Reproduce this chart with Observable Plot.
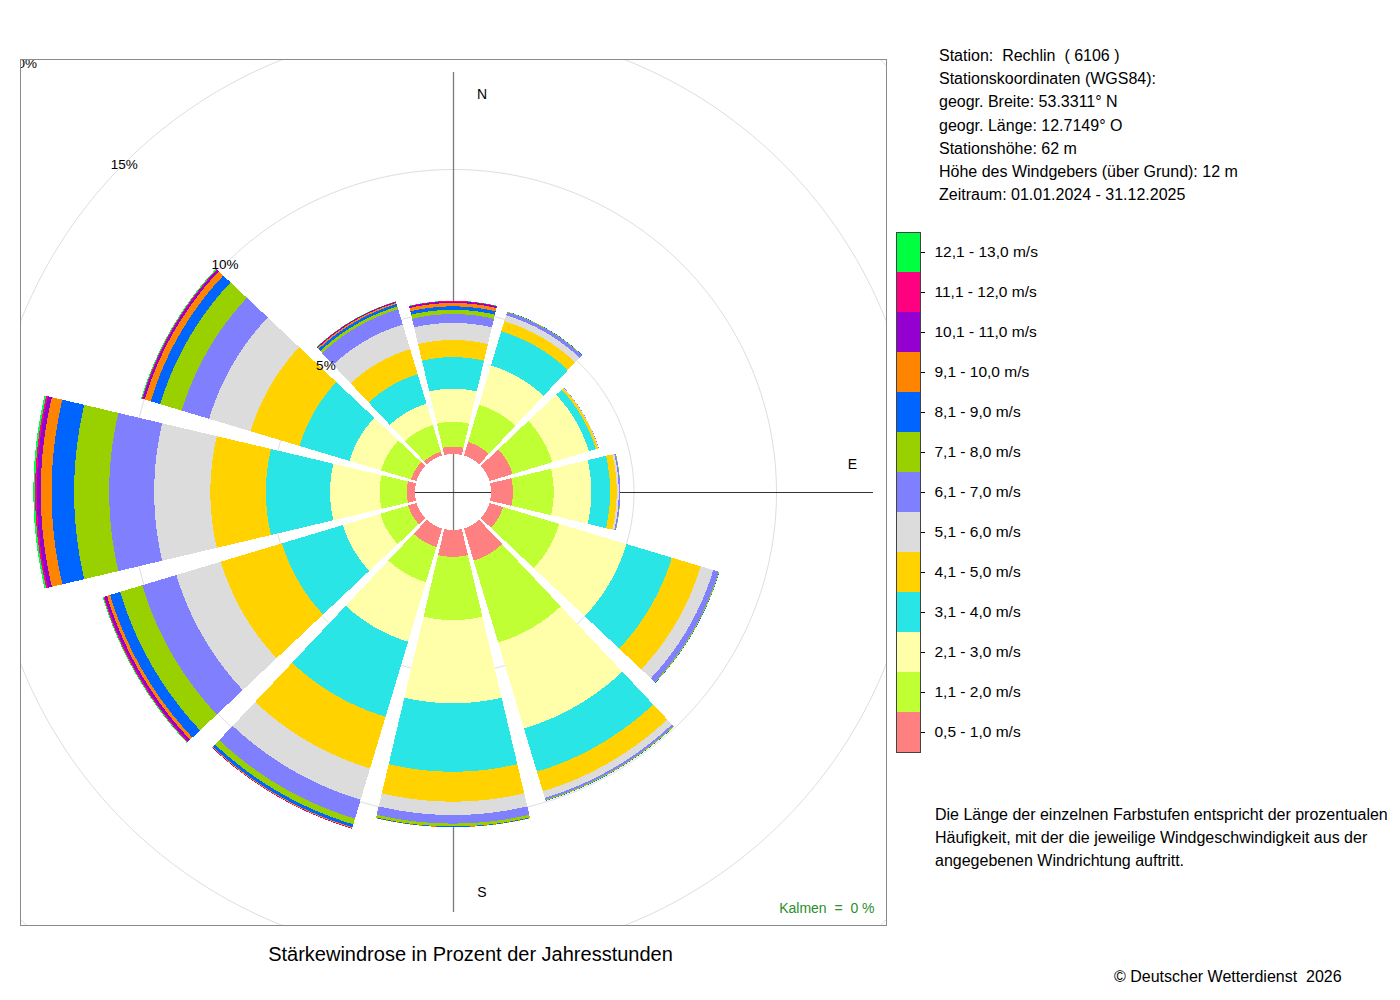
<!DOCTYPE html>
<html>
<head>
<meta charset="utf-8">
<script src="https://cdn.jsdelivr.net/npm/d3@7"></script>
<script src="https://cdn.jsdelivr.net/npm/@observablehq/plot@0.6"></script>
<style>
  body { margin: 0; background: #fff; font-family: "Liberation Sans", Arial, Helvetica, sans-serif; }
  #wrap { position: relative; width: 1400px; height: 1000px; overflow: hidden; background: #fff; }
  #rose, #legend { position: absolute; }
  #rose { left: 0; top: 0; }
  #legend { left: 895px; top: 222px; }
  .txt { position: absolute; font-size: 16px; color: #000; white-space: pre; line-height: 23.2px; }
</style>
</head>
<body>
<div id="wrap">
  <div id="rose"></div>
  <div id="legend"></div>
  <div class="txt" id="station" style="left:939px; top:44px;"></div>
  <div class="txt" id="note" style="left:935px; top:803px;"></div>
  <div class="txt" id="caption" style="left:0; width:941px; top:941px; text-align:center; font-size:20px; line-height:26px;"></div>
  <div class="txt" id="copy" style="left:1114px; top:965px;"></div>
</div>
<script>
// ---- categories ----
const directions = ["N", "NNE", "ENE", "E", "ESE", "SSE", "S", "SSW", "WSW", "W", "WNW", "NNW"];
const bearings   = [0, 30, 60, 90, 120, 150, 180, 210, 240, 270, 300, 330];
const speedClasses = [
  "0,5 - 1,0 m/s", "1,1 - 2,0 m/s", "2,1 - 3,0 m/s", "3,1 - 4,0 m/s", "4,1 - 5,0 m/s",
  "5,1 - 6,0 m/s", "6,1 - 7,0 m/s", "7,1 - 8,0 m/s", "8,1 - 9,0 m/s", "9,1 - 10,0 m/s",
  "10,1 - 11,0 m/s", "11,1 - 12,0 m/s", "12,1 - 13,0 m/s"
];
const classColors = [
  "#ff8080", "#bfff33", "#ffffaa", "#2ae5e5", "#ffd200", "#dcdcdc", "#8080ff",
  "#99d100", "#0064ff", "#ff8400", "#9400d0", "#ff0080", "#00ff40"
];

// ---- percent of hours per direction, one value per speed class (lowest first) ----
const pctN   = [0.26, 0.87, 1.16, 1.11, 0.60, 0.60, 0.31, 0.15, 0.12, 0.12, 0.05, 0.02, 0.01];
const pctNNE = [0.50, 1.36, 1.44, 1.25, 0.37, 0.22, 0.11, 0.02, 0.01, 0, 0, 0, 0];
const pctENE = [0.85, 1.45, 1.34, 0.26, 0.08, 0.02, 0.01, 0, 0, 0, 0, 0, 0];
const pctE   = [0.77, 1.43, 1.32, 0.66, 0.23, 0.07, 0.05, 0.01, 0, 0, 0, 0, 0];
const pctESE = [0.50, 2.06, 2.46, 1.66, 1.06, 0.46, 0.19, 0.03, 0.01, 0, 0, 0, 0];
const pctSSE = [1.18, 3.00, 3.15, 1.58, 0.72, 0.24, 0.07, 0.03, 0.01, 0, 0, 0, 0];
const pctS   = [0.94, 2.22, 2.92, 2.40, 1.05, 0.47, 0.30, 0.10, 0.02, 0.01, 0, 0, 0];
const pctSSW = [0.68, 1.29, 2.18, 2.75, 1.89, 1.15, 0.69, 0.21, 0.11, 0.03, 0.01, 0.01, 0];
const pctWSW = [0.31, 1.02, 1.37, 2.23, 2.24, 1.63, 1.25, 0.81, 0.37, 0.11, 0.09, 0.04, 0.03];
const pctW   = [0.29, 0.95, 1.74, 2.25, 1.95, 1.97, 1.58, 1.23, 0.79, 0.38, 0.14, 0.06, 0.06];
const pctWNW = [0.20, 1.10, 1.16, 1.83, 1.79, 1.52, 1.00, 0.79, 0.35, 0.22, 0.07, 0.03, 0.03];
const pctNNW = [0.14, 0.98, 0.78, 1.08, 0.92, 0.90, 0.56, 0.10, 0.09, 0.05, 0.03, 0.01, 0.01];

// ---- ring / compass labels ----
const ringPercents = [5, 10, 15, 20];
const compassLabels = ["N", "E", "S"];
const compassBearings = [0, 90, 180];
const calmText = "Kalmen\u00a0 =\u00a0 0 %";

// ---- texts ----
const stationLines = [
  "Station:  Rechlin  ( 6106 )",
  "Stationskoordinaten (WGS84):",
  "geogr. Breite: 53.3311° N",
  "geogr. Länge: 12.7149° O",
  "Stationshöhe: 62 m",
  "Höhe des Windgebers (über Grund): 12 m",
  "Zeitraum: 01.01.2024 - 31.12.2025"
];
const noteLines = [
  "Die Länge der einzelnen Farbstufen entspricht der prozentualen",
  "Häufigkeit, mit der die jeweilige Windgeschwindigkeit aus der",
  "angegebenen Windrichtung auftritt."
];
const captionText = "Stärkewindrose in Prozent der Jahresstunden";
const copyText = "© Deutscher Wetterdienst  2026";

// ---- build tables ----
const table = { N: pctN, NNE: pctNNE, ENE: pctENE, E: pctE, ESE: pctESE, SSE: pctSSE,
                S: pctS, SSW: pctSSW, WSW: pctWSW, W: pctW, WNW: pctWNW, NNW: pctNNW };

const HOLE = 38 / 28.5;          // empty centre, in percent units
const EXT = 433 / 28.5;          // half size of the square frame, in percent units
const AXIS = 420 / 28.5;         // length of the compass axes
const HALF = 13.3 * Math.PI / 180; // half angular width of a sector
const rad = d => d * Math.PI / 180;

const bandPts = [];
directions.forEach((dir, i) => {
  const th = rad(bearings[i]);
  let cum = 0;
  table[dir].forEach((v, k) => {
    if (!(v > 0)) return;
    const r0 = HOLE + cum, r1 = HOLE + cum + v;
    cum += v;
    const steps = 30;
    for (let s = 0; s <= steps; s++) {
      const a = th - HALF + (2 * HALF * s) / steps;
      bandPts.push({
        id: dir + "-" + k, cls: speedClasses[k],
        x1: r0 * Math.sin(a), y1: r0 * Math.cos(a),
        x2: r1 * Math.sin(a), y2: r1 * Math.cos(a)
      });
    }
  });
});

const ringPts = ringPercents.flatMap(p =>
  d3.range(0, 361, 1).map(a => ({ p, x: (HOLE + p) * Math.sin(rad(a)), y: (HOLE + p) * Math.cos(rad(a)) }))
);

const compass = compassLabels.map((label, i) => {
  const a = rad(compassBearings[i]);
  return {
    label,
    x: 14 * Math.sin(a) + 1.0 * Math.abs(Math.cos(a)),
    y: 14 * Math.cos(a) + 1.0 * Math.abs(Math.sin(a))
  };
});

const FONT = "Liberation Sans, Arial, Helvetica, sans-serif";

const rose = Plot.plot({
  width: 1400, height: 1000,
  marginLeft: 20, marginTop: 59, marginRight: 514, marginBottom: 75,
  x: { domain: [-EXT, EXT], axis: null },
  y: { domain: [-EXT, EXT], axis: null },
  color: { domain: speedClasses, range: classColors },
  style: { fontFamily: FONT, fontSize: "13px", background: "transparent", color: "#000" },
  marks: [
    Plot.line(ringPts, { x: "x", y: "y", z: "p", stroke: "#dedede", strokeWidth: 1, clip: true }),
    Plot.ruleX([0], { y1: -AXIS, y2: AXIS, stroke: "#7a7a7a", strokeWidth: 1.3 }),
    Plot.ruleY([0], { x1: -AXIS, x2: AXIS, stroke: "#333", strokeWidth: 1 }),
    Plot.text(compass, { x: "x", y: "y", text: "label", fontSize: 14, dy: 1, fill: "#000" }),
    Plot.area(bandPts, { x1: "x1", y1: "y1", x2: "x2", y2: "y2", z: "id", fill: "cls", shapeRendering: "crispEdges" }),
    Plot.text(ringPercents, {
      x: p => -(HOLE + p) * Math.SQRT1_2, y: p => (HOLE + p) * Math.SQRT1_2,
      text: p => p + "%", fontSize: 13.5, dy: 1, fill: "#000", clip: true
    }),
    Plot.text([calmText], { text: d => d, frameAnchor: "bottom-right", dx: -12, dy: -17,
      textAnchor: "end", lineAnchor: "middle", fontSize: 14, fill: "#2a8f2a" }),
    Plot.frame({ stroke: "#8a8a8a" })
  ]
});
document.getElementById("rose").appendChild(rose);

const legend = Plot.plot({
  width: 175, height: 540,
  marginLeft: 1, marginRight: 150, marginTop: 10, marginBottom: 10,
  x: { domain: [0, 1], axis: null },
  y: { type: "band", domain: speedClasses.slice().reverse(), padding: 0, axis: "right",
       tickSize: 4, tickPadding: 10, label: null },
  color: { domain: speedClasses, range: classColors },
  style: { fontFamily: FONT, fontSize: "15.5px", background: "transparent", color: "#000" },
  marks: [
    Plot.barX(speedClasses, { x1: 0, x2: 1, y: d => d, fill: d => d }),
    Plot.frame({ stroke: "#444" })
  ]
});
document.getElementById("legend").appendChild(legend);

document.getElementById("station").textContent = stationLines.join("\n");
document.getElementById("note").textContent = noteLines.join("\n");
document.getElementById("caption").textContent = captionText;
document.getElementById("copy").textContent = copyText;
</script>
</body>
</html>
